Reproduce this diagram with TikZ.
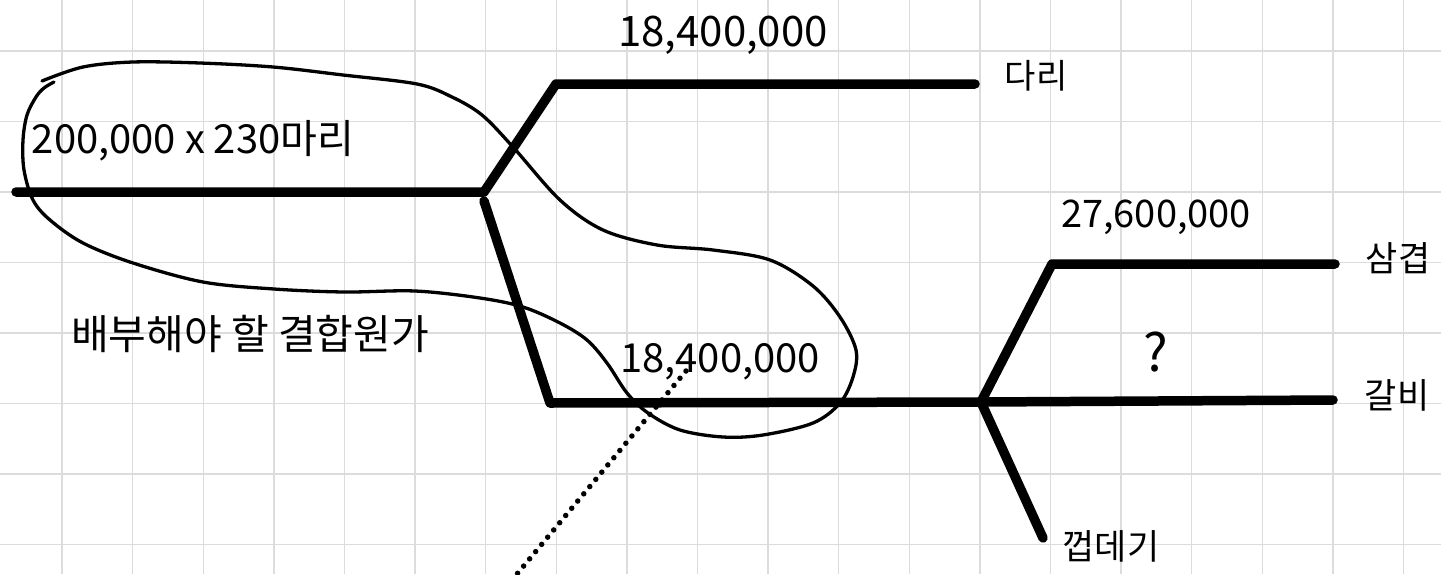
\documentclass[tikz,border=0pt]{standalone}
\usepackage{fontspec}
\setmainfont{Noto Sans CJK KR}
\begin{document}
\begin{tikzpicture}[x=1pt,y=-1pt,
  gridline/.style={draw=gridgray,line width=1.4pt},
  branch/.style={line width=9.5pt,line cap=round,line join=round},
  lasso/.style={line width=3.3pt,line cap=round,line join=round},
  dotline/.style={line width=5.5pt,line cap=round,dash pattern=on 0pt off 9.4pt},
  lbl/.style={inner sep=0pt,text=black}]
\definecolor{gridgray}{RGB}{220,220,220}
\useasboundingbox (0,0) rectangle (1441,574);
\fill[white] (0,0) rectangle (1441,574);

% squared paper
\foreach \k in {0,...,19} {\draw[gridline] ({62+70.6*\k},0) -- ({62+70.6*\k},574);}
\foreach \k in {0,...,7} {\draw[gridline] (0,{51+70.5*\k}) -- (1441,{51+70.5*\k});}

% tree of split-off points
\coordinate (root) at (16,192);
\coordinate (j1) at (484,192);
\coordinate (upbend) at (556,84);
\coordinate (upend) at (975,84);
\coordinate (dnstart) at (484,201);
\coordinate (dnbend) at (550,403);
\coordinate (j2) at (981,402);
\coordinate (j2bend) at (1052,264);
\coordinate (j2top) at (1335,264);
\coordinate (j2mid) at (1333,400);
\coordinate (j2low) at (1043,538);

\draw[branch] (root) -- (j1) -- (upbend) -- (upend);
\draw[branch] (dnstart) -- (dnbend) -- (j2);
\draw[branch] (j2) -- (j2bend) -- (j2top);
\draw[branch] (j2) -- (j2mid);
\draw[branch] (j2) -- (j2low);

% loop around the joint cost part
\draw[lasso] plot[smooth,tension=0.55] coordinates {
  (42,81) (83,67) (133,62) (200,63) (273,67) (343,75) (417,84) (452,97)
  (482,115) (513,147) (560,200) (603,230) (657,245) (713,250) (770,260)
  (813,286) (840,317) (856,350) (853,377) (840,403) (813,423) (763,435)
  (723,437) (680,430) (648,413) (627,393) (607,363) (587,340) (560,323)
  (523,307) (480,298) (415,291) (344,292) (274,289) (203,282) (133,263)
  (83,243) (50,220) (33,200) (24,170) (23,140) (27,115) (36,97) (44,88) (54,82)};

% dotted pointer
\coordinate (dottop) at (686,371);
\coordinate (dotend) at (512,580);
\draw[dotline] (dottop) -- (dotend);

% labels
\node[lbl,font=\fontsize{40}{44}\selectfont] (base) at (193,141) {200,000 x 230마리};
\node[lbl,font=\fontsize{42}{46}\selectfont] (ctop) at (723,35) {18,400,000};
\node[lbl,font=\fontsize{34}{38}\selectfont] (leg) at (1036,76) {다리};
\node[lbl,font=\fontsize{38}{42}\selectfont] (cbelly) at (1156,217) {27,600,000};
\node[lbl,font=\fontsize{35}{38}\selectfont] (belly) at (1398,258) {삼겹};
\node[lbl,font=\fontsize{52}{56}\selectfont] (qm) at (1156,352) {?};
\node[lbl,font=\fontsize{35}{38}\selectfont] (rib) at (1397,395) {갈비};
\node[lbl,font=\fontsize{35}{38}\selectfont] (skin) at (1111,546) {껍데기};
\node[lbl,font=\fontsize{41}{44}\selectfont] (note) at (250,334) {배부해야 할 결합원가};
\node[lbl,font=\fontsize{40}{44}\selectfont] (cmid) at (720,362) {18,400,000};
\end{tikzpicture}
\end{document}
